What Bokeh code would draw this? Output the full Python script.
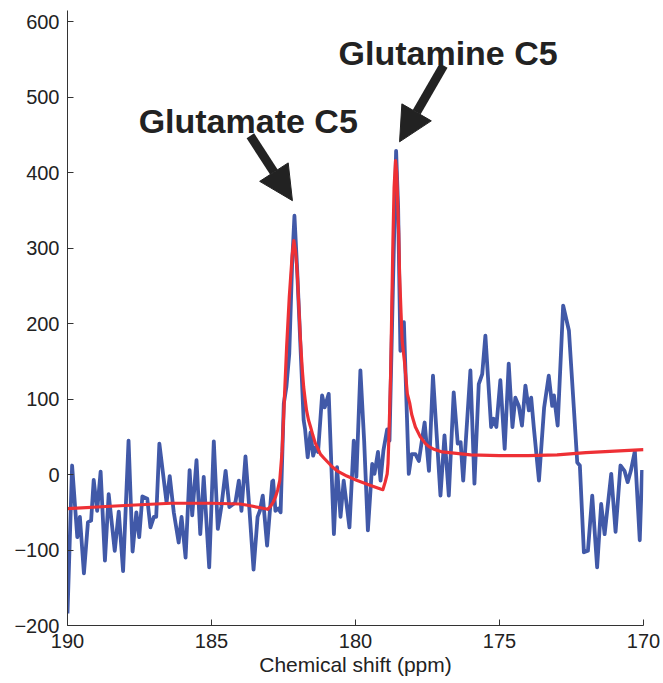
from bokeh.plotting import figure
from bokeh.models import Range1d, FixedTicker, Arrow, NormalHead, Label
from bokeh.embed import file_html
from bokeh.resources import INLINE

# Measured spectrum (blue)
blue_ppm = [190.0, 189.84, 189.66, 189.57, 189.43, 189.29, 189.18, 189.09, 188.97, 188.85,
            188.70, 188.57, 188.36, 188.22, 188.07, 187.88, 187.74, 187.61, 187.51, 187.40,
            187.23, 187.12, 187.00, 186.92, 186.81, 186.56, 186.45, 186.31, 186.14, 186.04,
            185.90, 185.76, 185.67, 185.52, 185.39, 185.27, 185.08, 184.92, 184.78, 184.66,
            184.51, 184.38, 184.17, 184.05, 183.96, 183.82, 183.68, 183.54, 183.40, 183.32,
            183.22, 183.07, 182.89, 182.86, 182.78, 182.68, 182.60, 182.49, 182.40, 182.30,
            182.20, 182.12, 182.03, 181.91, 181.80, 181.75, 181.66, 181.56, 181.47, 181.39,
            181.30, 181.16, 181.07, 180.93, 180.75, 180.64, 180.52, 180.41, 180.21, 180.06,
            179.97, 179.83, 179.70, 179.57, 179.42, 179.34, 179.22, 179.13, 179.03, 178.90,
            178.82, 178.70, 178.59, 178.52, 178.44, 178.32, 178.15, 178.05, 177.92, 177.80,
            177.60, 177.45, 177.31, 177.05, 176.91, 176.76, 176.59, 176.45, 176.35, 176.26,
            176.01, 175.87, 175.72, 175.60, 175.49, 175.29, 175.20, 175.11, 174.97, 174.82,
            174.68, 174.55, 174.45, 174.33, 174.22, 174.10, 173.98, 173.90, 173.81, 173.63,
            173.45, 173.29, 173.17, 173.11, 172.98, 172.79, 172.59, 172.42, 172.30, 172.21,
            172.07, 171.93, 171.78, 171.61, 171.47, 171.35, 171.12, 170.97, 170.80, 170.66,
            170.55, 170.44, 170.30, 170.13, 170.05]
blue_intensity = [-184, 12, -83, -56, -131, -63, -61, -7, -48, 4,
                  -114, -26, -101, -49, -128, 45, -102, -50, -83, -29,
                  -32, -70, -56, -56, 41, -37, -2, -50, -90, -56,
                  -110, 6, -54, 19, -79, -3, -123, 44, -72, -43,
                  5, -43, -37, -8, -48, 24, -48, -126, -56, -48,
                  -28, -94, -9, -8, -48, -45, -50, 94, 116, 160,
                  280, 343, 275, 169, 72, 60, 23, 56, 25, 36,
                  30, 105, 89, 107, -79, 10, -56, -8, -70, 45,
                  -3, 138, 45, -74, 14, 1, 30, -8, 32, 60,
                  45, 250, 429, 354, 164, 202, 1, 27, 27, 18,
                  69, 5, 131, -28, 52, -28, 109, 41, 43, -8,
                  138, -12, 120, 133, 184, 63, 74, 63, 125, 34,
                  147, 63, 102, 91, 65, 118, 85, 102, 63, -8,
                  89, 131, 91, 105, 65, 224, 191, 89, 16, 12,
                  -103, -101, -28, -123, -39, -79, 1, -76, 12, 5,
                  -10, 5, 31, -87, 6]

# Fitted curve (red)
fit_ppm = [190.0, 188.0, 186.4, 185.0, 184.0, 183.7, 183.3, 183.05, 182.95, 182.85,
           182.78, 182.70, 182.63, 182.55, 182.47, 182.39, 182.30, 182.20, 182.14, 182.08,
           182.02, 181.97, 181.91, 181.85, 181.80, 181.75, 181.70, 181.63, 181.56, 181.48,
           181.40, 181.30, 181.22, 181.10, 180.90, 180.80, 180.64, 180.30, 179.94, 179.50,
           179.13, 179.05, 178.97, 178.90, 178.87, 178.84, 178.81, 178.78, 178.74, 178.70,
           178.66, 178.61, 178.57, 178.53, 178.50, 178.47, 178.42, 178.38, 178.30, 178.20,
           178.12, 178.05, 177.99, 177.92, 177.75, 177.57, 177.45, 177.30, 176.99, 176.00,
           175.00, 174.00, 173.00, 172.00, 171.00, 170.00]
fit_intensity = [-45, -41, -38, -38, -39, -41, -44, -46, -42, -36,
                 -30, -20, -8, 30, 100, 170, 235, 290, 310, 295,
                 266, 225, 177, 140, 116, 100, 85, 72, 63, 52,
                 42, 34, 27, 22, 14, 10, 5, -2, -8, -14,
                 -19, -20, -10, 1, 15, 50, 90, 133, 220, 310,
                 380, 416, 400, 354, 320, 266, 215, 177, 150, 107,
                 95, 80, 72, 63, 50, 41, 37, 34, 30, 26,
                 25, 25, 26, 29, 31, 33]

x_ticks = [190, 185, 180, 175, 170]
y_ticks = [-200, -100, 0, 100, 200, 300, 400, 500, 600]

# Annotations: label text, label anchor, arrow tail -> tip
labels = ["Glutamate C5", "Glutamine C5"]
label_ppm = [187.53, 180.59]
label_intensity = [469, 559]
arrow_tail_ppm = [183.65, 176.94]
arrow_tail_intensity = [449, 542]
arrow_tip_ppm = [182.19, 178.47]
arrow_tip_intensity = [363, 441]

FONT = "Liberation Sans"

p = figure(width=663, height=683, output_backend="svg", toolbar_location=None,
           x_range=Range1d(190, 170), y_range=Range1d(-200, 615),
           min_border_left=67, min_border_right=20, min_border_top=10, min_border_bottom=58)
p.outline_line_color = None
p.background_fill_color = "white"
p.border_fill_color = "white"
p.xgrid.visible = False
p.ygrid.visible = False

p.line(blue_ppm, blue_intensity, line_color="#4159A8", line_width=3.8, line_join="round")
p.line(fit_ppm, fit_intensity, line_color="#EE3035", line_width=3.2, line_join="round")

for i in range(len(labels)):
    p.add_layout(Arrow(end=NormalHead(size=34, fill_color="#222222", line_color="#222222"),
                       x_start=arrow_tail_ppm[i], y_start=arrow_tail_intensity[i],
                       x_end=arrow_tip_ppm[i], y_end=arrow_tip_intensity[i],
                       line_color="#222222", line_width=9))
    p.add_layout(Label(x=label_ppm[i], y=label_intensity[i], text=labels[i],
                       text_font=FONT, text_font_style="bold", text_font_size="34px",
                       text_color="#222222", text_baseline="alphabetic", text_align="left"))

for ax in (p.xaxis[0], p.yaxis[0]):
    ax.axis_line_color = "#333333"
    ax.major_tick_line_color = "#333333"
    ax.major_tick_in = 6
    ax.major_tick_out = 0
    ax.minor_tick_line_color = None
    ax.major_label_text_font = FONT
    ax.major_label_text_font_size = "20px"
    ax.major_label_text_color = "#222222"
    ax.major_label_standoff = 8

p.xaxis.ticker = FixedTicker(ticks=x_ticks)
p.yaxis.ticker = FixedTicker(ticks=y_ticks)
p.yaxis.major_label_overrides = {t: (str(t).replace("-", "\u2212")) for t in y_ticks}
p.xaxis.axis_label = "Chemical shift (ppm)"
p.xaxis.axis_label_text_font = FONT
p.xaxis.axis_label_text_font_style = "normal"
p.xaxis.axis_label_text_font_size = "21px"
p.xaxis.axis_label_text_color = "#222222"
p.xaxis.axis_label_standoff = 2

open("out.html", "w").write(file_html(p, INLINE))
